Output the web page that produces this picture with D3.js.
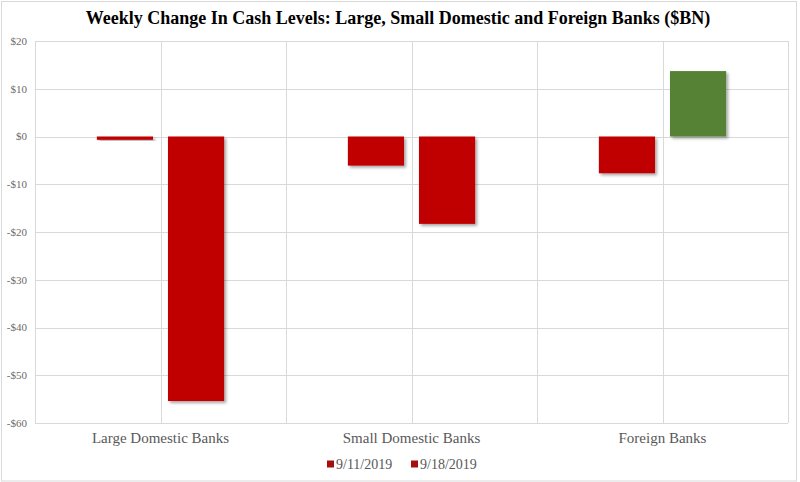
<!DOCTYPE html>
<html>
<head>
<meta charset="utf-8">
<script src="https://cdn.jsdelivr.net/npm/d3@7"></script>
<style>
  body { margin: 0; background: #fff; }
  text { font-family: "Liberation Serif", "DejaVu Serif", serif; }
</style>
</head>
<body>
<div id="chart"></div>
<script>
// data
const banks = ["Large Domestic Banks", "Small Domestic Banks", "Foreign Banks"];
const weeks = ["9/11/2019", "9/18/2019"];
const week1 = [-0.7, -6.1, -7.7];
const week2 = [-55.4, -18.3, 13.7];
const yTicks = [20, 10, 0, -10, -20, -30, -40, -50, -60];

const width = 800, height = 482;
const margin = {top: 41, right: 12, bottom: 59, left: 35};

const rows = [];
banks.forEach((b, i) => {
  rows.push({bank: b, week: weeks[0], v: week1[i]});
  rows.push({bank: b, week: weeks[1], v: week2[i]});
});

const svg = d3.select("#chart").append("svg")
  .attr("width", width)
  .attr("height", height);

// soft shadow like the excel bars
const defs = svg.append("defs");
const f = defs.append("filter").attr("id", "shadow")
  .attr("x", "-20%").attr("y", "-20%").attr("width", "150%").attr("height", "150%");
f.append("feDropShadow").attr("dx", 2).attr("dy", 2).attr("stdDeviation", 1.5)
  .attr("flood-color", "#000").attr("flood-opacity", 0.35);

// outer frame
svg.append("rect")
  .attr("x", 1.5).attr("y", 1.5)
  .attr("width", width - 5).attr("height", height - 2.5)
  .attr("fill", "none").attr("stroke", "#d9d9d9");

const x0 = d3.scaleBand()
  .domain(banks)
  .range([margin.left, width - margin.right]);

const x1 = d3.scaleBand()
  .domain(weeks)
  .range([0, x0.bandwidth()])
  .paddingInner(0.21)
  .paddingOuter(0.87);

const y = d3.scaleLinear()
  .domain([-60, 20])
  .range([height - margin.bottom, margin.top]);

// horizontal gridlines
svg.append("g")
  .selectAll("line")
  .data(yTicks)
  .join("line")
  .attr("x1", margin.left).attr("x2", width - margin.right)
  .attr("y1", d => Math.round(y(d)) + 0.5).attr("y2", d => Math.round(y(d)) + 0.5)
  .attr("stroke", "#d9d9d9");

// vertical gridlines: band edges and band centres
const vLines = [];
banks.forEach(b => { vLines.push(x0(b)); vLines.push(x0(b) + x0.bandwidth() / 2); });
vLines.push(x0.range()[1]);
svg.append("g")
  .selectAll("line")
  .data(vLines)
  .join("line")
  .attr("x1", d => Math.round(d) + 0.5).attr("x2", d => Math.round(d) + 0.5)
  .attr("y1", margin.top).attr("y2", height - margin.bottom)
  .attr("stroke", "#d9d9d9");

// y axis labels
svg.append("g")
  .selectAll("text")
  .data(yTicks)
  .join("text")
  .attr("x", 27)
  .attr("y", d => y(d))
  .attr("dy", "0.35em")
  .attr("text-anchor", "end")
  .attr("font-size", 11)
  .attr("fill", "#6b6b6b")
  .text(d => (d < 0 ? "-$" : "$") + Math.abs(d));

// bars
svg.append("g")
  .selectAll("rect")
  .data(rows)
  .join("rect")
  .attr("x", d => x0(d.bank) + x1(d.week))
  .attr("width", x1.bandwidth())
  .attr("y", d => y(Math.max(0, d.v)))
  .attr("height", d => Math.abs(y(d.v) - y(0)))
  .attr("fill", d => d.v > 0 ? "#548235" : "#c00000")
  .attr("filter", "url(#shadow)");

// category labels
svg.append("g")
  .selectAll("text")
  .data(banks)
  .join("text")
  .attr("x", d => x0(d) + x0.bandwidth() / 2)
  .attr("y", 443)
  .attr("text-anchor", "middle")
  .attr("font-size", 15)
  .attr("fill", "#595959")
  .text(d => d);

// title
svg.append("text")
  .attr("x", 398)
  .attr("y", 24)
  .attr("text-anchor", "middle")
  .attr("font-size", 18)
  .attr("font-weight", "bold")
  .attr("fill", "#000")
  .text("Weekly Change In Cash Levels: Large, Small Domestic and Foreign Banks ($BN)");

// legend
const legX = [327, 411];
const leg = svg.append("g")
  .selectAll("g")
  .data(weeks)
  .join("g")
  .attr("transform", (d, i) => `translate(${legX[i]},464)`);
leg.append("rect")
  .attr("x", 0).attr("y", -3.5)
  .attr("width", 7).attr("height", 7)
  .attr("fill", "#a50f0f");
leg.append("text")
  .attr("x", 9)
  .attr("dy", "0.35em")
  .attr("font-size", 14)
  .attr("fill", "#595959")
  .text(d => d);
</script>
</body>
</html>
